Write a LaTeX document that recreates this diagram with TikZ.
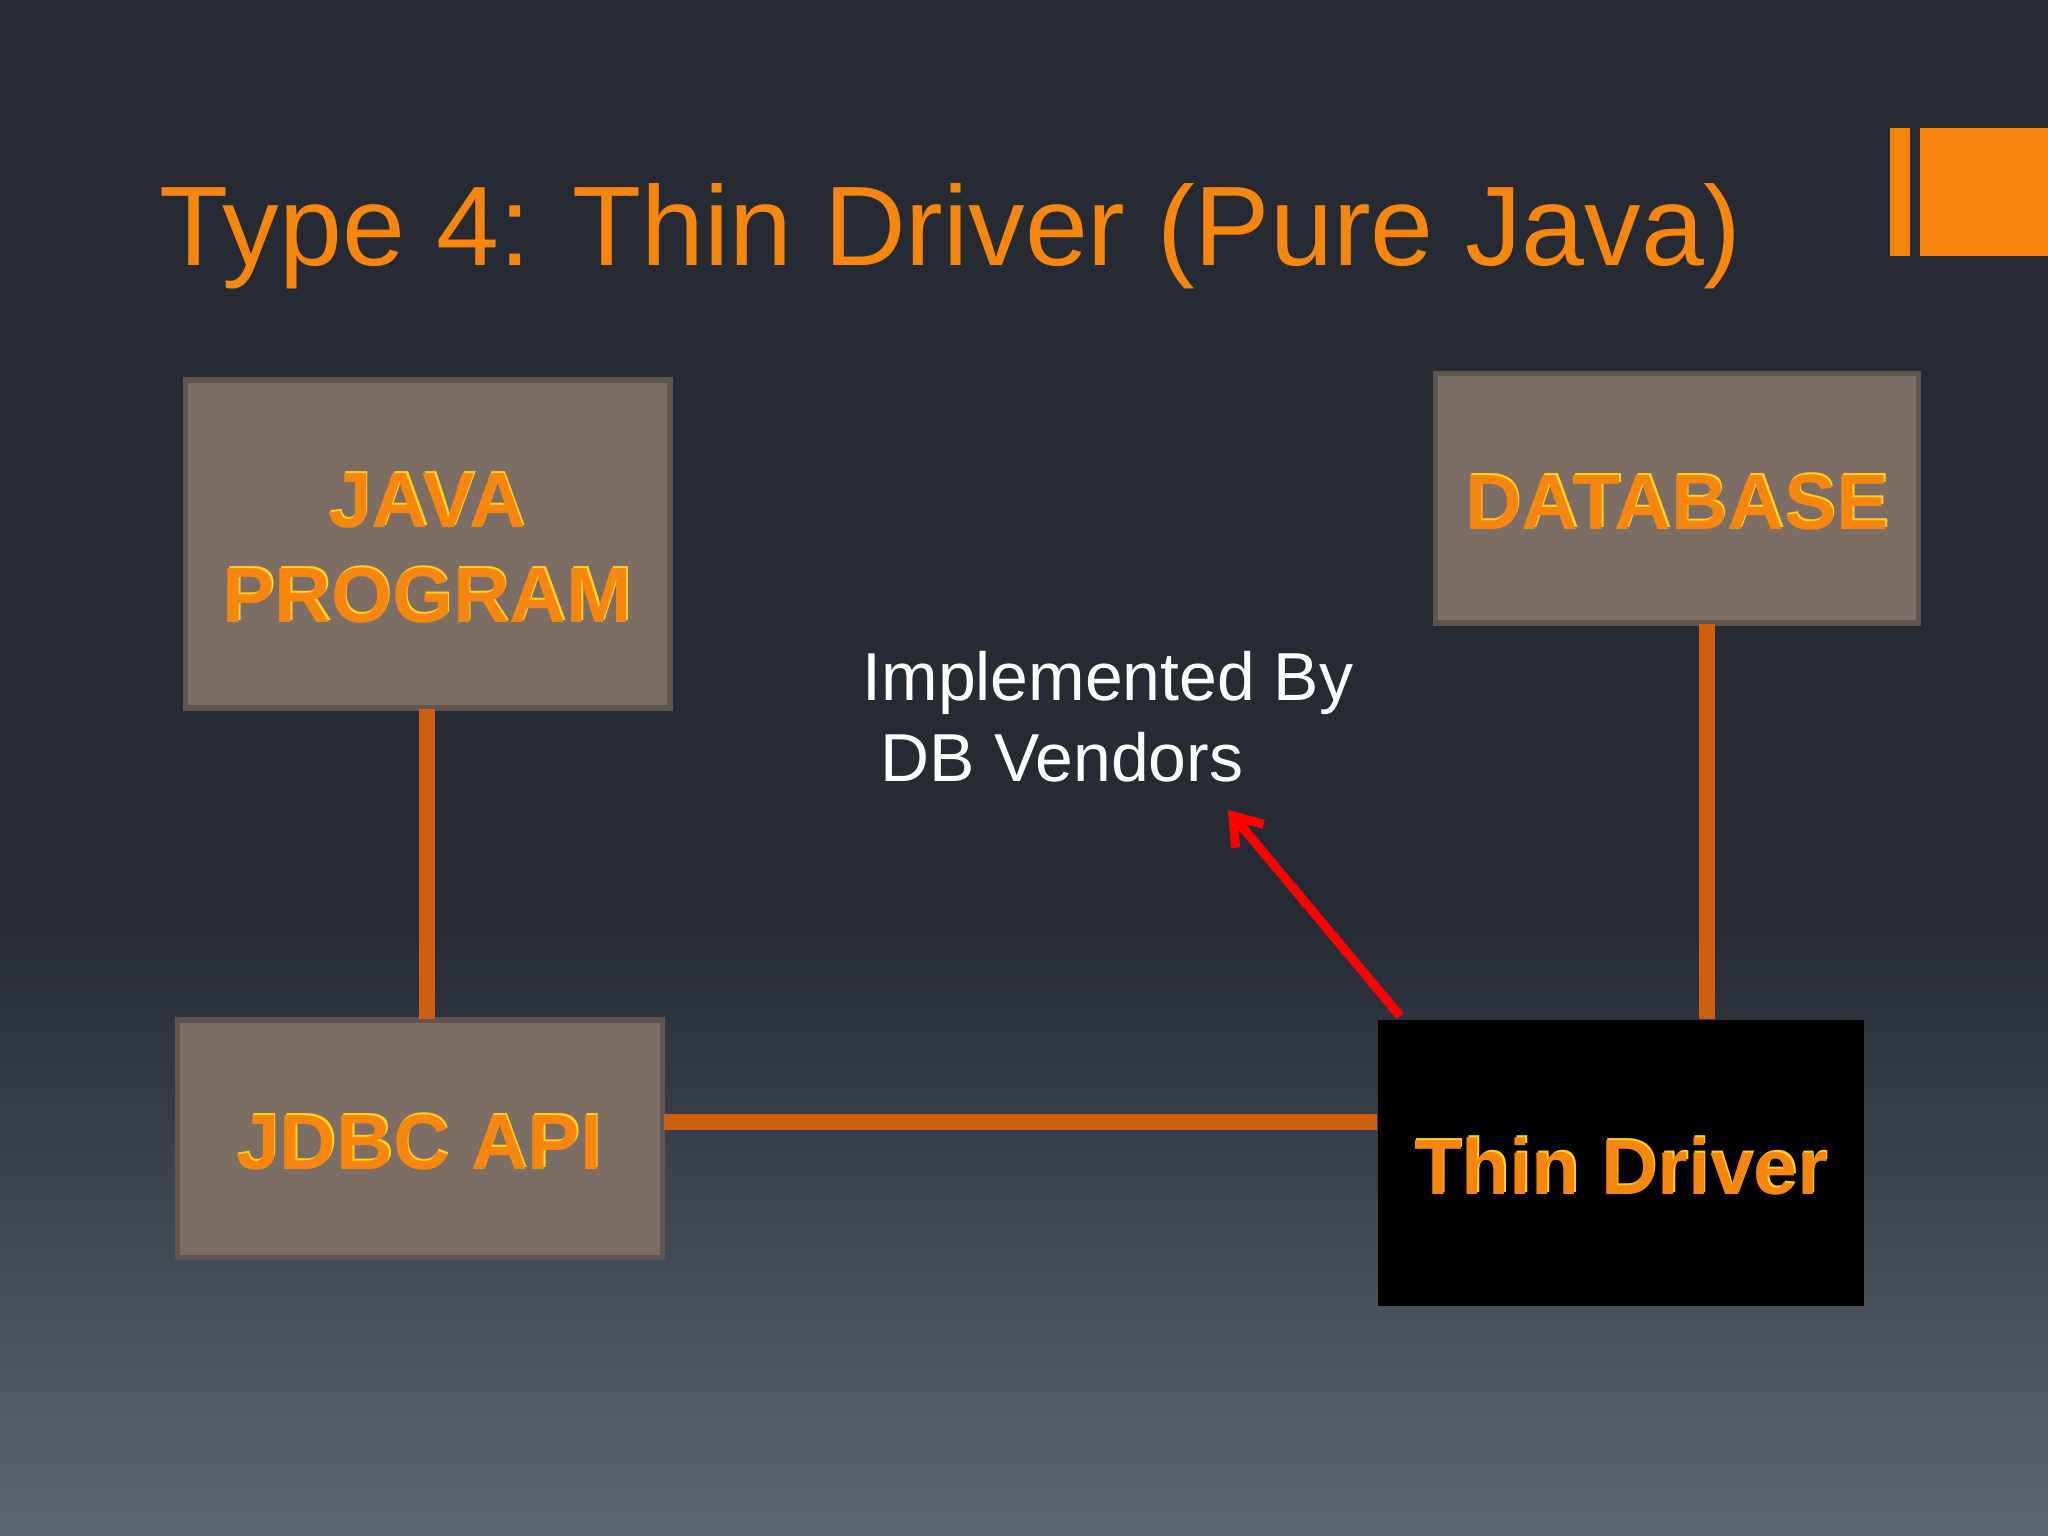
\documentclass[tikz,border=0pt]{standalone}
\usetikzlibrary{arrows.meta}
\usepackage{fontspec}
\setmainfont{Liberation Sans}
\definecolor{bgtop}{HTML}{252A33}
\definecolor{bgbot}{HTML}{5C6670}
\definecolor{ora}{HTML}{F7860F}
\definecolor{boxf}{HTML}{7D6E65}
\definecolor{boxd}{HTML}{5E5550}
\definecolor{lnk}{HTML}{CC5F10}
\definecolor{glow}{HTML}{FFD21F}
\newcommand{\glowtxt}[1]{\makebox[0pt]{\color{glow}\hspace*{1.2pt}\raisebox{0.8pt}{#1}}\makebox[0pt]{\color{ora}#1}}
\begin{document}
\begin{tikzpicture}[x=0.5pt,y=-0.5pt,
  box/.style={draw=boxd,line width=2pt,fill=boxf},
  lbl/.style={font=\fontsize{30}{36}\selectfont\bfseries,align=center},
  link/.style={draw=lnk,line width=6pt}]
\useasboundingbox (0,0) rectangle (1568,1176);
\shade[top color=bgtop,bottom color=bgtop] (0,0) rectangle (1568,700);
\shade[top color=bgtop,bottom color=bgbot] (0,700) rectangle (1568,1176);
\node[anchor=base west,text=ora,font=\fontsize{43.3}{52}\selectfont,inner sep=0] (title) at (122,203) {Type 4: Thin Driver (Pure Java)};
\fill[ora] (1447,98) rectangle (1462,196);
\fill[ora] (1470,98) rectangle (1568,196);
\path[box] (142,291) rectangle (513,542);
\node[minimum width=185.5pt,minimum height=125.5pt,inner sep=0] (java) at (327.5,416.5) {};
\path[box] (1099,286) rectangle (1469,477);
\node[minimum width=185pt,minimum height=95.5pt,inner sep=0] (db) at (1284,381.5) {};
\path[box] (136,781) rectangle (507,963);
\node[minimum width=185.5pt,minimum height=91pt,inner sep=0] (jdbc) at (321.5,872) {};
\fill[black] (1055,781) rectangle (1427,1000);
\node[minimum width=186pt,minimum height=109.5pt,inner sep=0] (thin) at (1241,890.5) {};
\node[lbl] at (327,383) {\glowtxt{JAVA}};
\node[lbl] at (327,455) {\glowtxt{PROGRAM}};
\node[lbl] at (1284,384) {\glowtxt{DATABASE}};
\node[lbl] at (321,874) {\glowtxt{JDBC API}};
\node[lbl] at (1241,892) {\glowtxt{Thin Driver}};
\draw[link] (327,543) -- (327,780);
\draw[link] (508,859) -- (1054,859);
\draw[link] (1307,478) -- (1307,780);
\node[anchor=base west,text=white,font=\fontsize{26}{31}\selectfont,inner sep=0] (impl) at (660,536) {Implemented By};
\node[anchor=base west,text=white,font=\fontsize{26}{31}\selectfont,inner sep=0] (vend) at (674,598) {DB Vendors};
\coordinate (as) at (1072,778);
\coordinate (ae) at (940,620);
\draw[red,line width=3.5pt,-{Straight Barb[length=10pt,width=14pt]}] (as) -- (ae);
\end{tikzpicture}
\end{document}
